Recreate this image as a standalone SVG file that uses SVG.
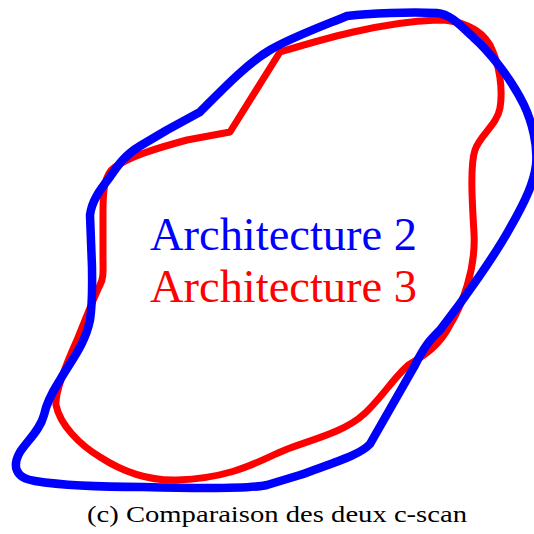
<svg xmlns="http://www.w3.org/2000/svg" width="534" height="534" viewBox="0 0 534 534">
<style>
.c{fill:none;stroke-linejoin:round;stroke-linecap:round}
</style>
<rect width="534" height="534" fill="#fff"/>
<g id="outlines">
<path id="arch3" class="c" stroke="#f00" stroke-width="7" d="M 230,132 L 280,52 C 320,40 380,22 437,20 C 460,20 480,28 490,45 C 500,65 503,90 500,108 C 497,125 480,135 475,150 C 470,165 472,200 474,233 C 476,270 462,305 450,325 C 440,345 425,355 410,364 C 398,372 380,400 364,414 C 345,432 310,440 285,450 C 260,460 235,478 177,480 C 145,481 120,470 100,457 C 80,445 60,425 56,405 C 55,390 68,360 77,340 C 85,320 95,295 100,285 C 104,278 103,270 103,255 L 103,213 C 103,195 103,175 115,167 C 130,157 150,150 187,140 Z"/>
<path id="arch2" class="c" stroke="#00f" stroke-width="8.5" d="M 200,112 C 220,92 245,65 270,50 C 290,38 320,27 347,16 C 370,13 410,12 437,13 C 450,14 460,25 473,37 C 490,52 512,80 524,105 C 532,122 538,145 536,165 C 534,182 526,200 510,228 C 495,255 465,298 440,330 C 430,340 425,345 414,367 L 370,444 C 360,455 335,462 300,475 L 267,485 C 250,489 180,488 143,487 C 100,487 60,485 35,481 C 15,478 12,466 20,452 C 28,440 40,430 44,415 C 47,400 55,388 60,380 C 70,362 85,345 90,320 C 93,300 92,280 92,267 L 90,215 C 92,200 100,190 110,177 C 118,165 125,155 140,146 L 167,130 Z"/>
</g>
<g id="labels" font-family="'Liberation Serif', 'DejaVu Serif', serif">
<text x="150" y="250" font-size="46" fill="#00f" textLength="267" lengthAdjust="spacingAndGlyphs">Architecture 2</text>
<text x="150" y="302" font-size="46" fill="#f00" textLength="267" lengthAdjust="spacingAndGlyphs">Architecture 3</text>
<text x="87" y="522" font-size="24" fill="#000" textLength="380" lengthAdjust="spacingAndGlyphs">(c) Comparaison des deux c-scan</text>
</g>
</svg>
